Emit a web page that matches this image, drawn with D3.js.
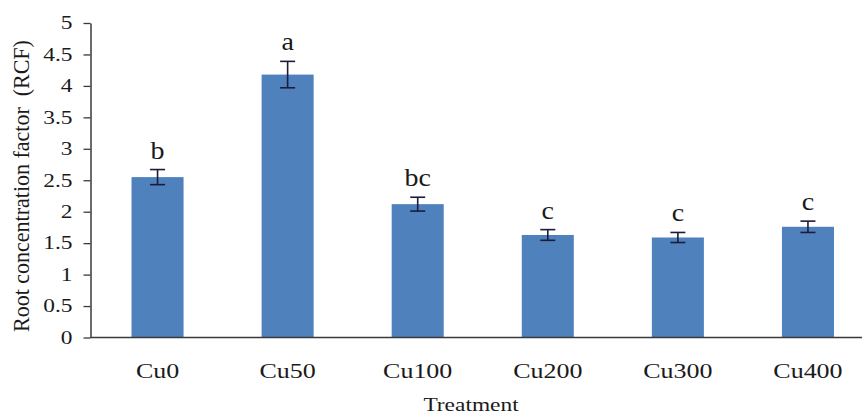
<!DOCTYPE html>
<html>
<head>
<meta charset="utf-8">
<script src="https://cdn.jsdelivr.net/npm/d3@7"></script>
<style>
  html, body { margin: 0; padding: 0; background: #ffffff; }
  svg { display: block; }
  text { font-family: "Liberation Serif", "Times New Roman", serif; fill: #1a1a1a; }
</style>
</head>
<body>
<svg id="chart" width="862" height="416"></svg>
<script>
// Root concentration factor by copper treatment
const treatments = ["Cu0", "Cu50", "Cu100", "Cu200", "Cu300", "Cu400"];
const rcfMeans   = [2.55, 4.18, 2.12, 1.63, 1.59, 1.76];
const rcfErrors  = [0.12, 0.21, 0.11, 0.085, 0.08, 0.09];
const groupLetters = ["b", "a", "bc", "c", "c", "c"];
const yTicks = [0, 0.5, 1, 1.5, 2, 2.5, 3, 3.5, 4, 4.5, 5];

const svg = d3.select("#chart");
const W = 862, H = 416;
const plotLeft = 90.5, plotTop = 23, plotBottom = 337.5;

// glyphs in this figure are drawn slightly wide
const stretch = 1.3;

const x = d3.scaleBand().domain(treatments).range([92.5, 873]).paddingInner(0.6).paddingOuter(0.3);
const y = d3.scaleLinear().domain([0, 5]).range([plotBottom, plotTop]);

// bars
svg.append("g").selectAll("rect")
  .data(treatments)
  .join("rect")
  .attr("x", d => x(d))
  .attr("width", x.bandwidth())
  .attr("y", (d, i) => y(rcfMeans[i]))
  .attr("height", (d, i) => y(0) - y(rcfMeans[i]))
  .attr("fill", "#4f81bd");

// error bars
const eb = svg.append("g").attr("stroke", "#1c1c3a").attr("stroke-width", 1.6);
treatments.forEach((t, i) => {
  const cx = x(t) + x.bandwidth() / 2;
  const y1 = y(rcfMeans[i] + rcfErrors[i]);
  const y2 = y(rcfMeans[i] - rcfErrors[i]);
  eb.append("line").attr("x1", cx).attr("x2", cx).attr("y1", y1).attr("y2", y2);
  eb.append("line").attr("x1", cx - 7.5).attr("x2", cx + 7.5).attr("y1", y1).attr("y2", y1);
  eb.append("line").attr("x1", cx - 7.5).attr("x2", cx + 7.5).attr("y1", y2).attr("y2", y2);
});

// significance letters
svg.append("g").selectAll("text")
  .data(treatments)
  .join("text")
  .attr("transform", (d, i) => `translate(${x(d) + x.bandwidth() / 2},${y(rcfMeans[i] + rcfErrors[i]) - 11}) scale(1.12,1)`)
  .attr("text-anchor", "middle")
  .attr("font-size", 25)
  .text((d, i) => groupLetters[i]);

// y axis
const yAxis = svg.append("g")
  .attr("transform", `translate(${plotLeft},0)`)
  .call(d3.axisLeft(y).tickValues(yTicks).tickFormat(d3.format("")).tickSize(7).tickSizeOuter(0));
yAxis.select(".domain").attr("stroke", "#3a3a3a").attr("stroke-width", 1.5);
yAxis.selectAll(".tick line").attr("stroke", "#3a3a3a").attr("stroke-width", 1.3);
yAxis.selectAll(".tick text")
  .attr("font-family", "Liberation Serif, serif")
  .attr("font-size", 18)
  .attr("fill", "#1a1a1a")
  .attr("x", -18 / stretch)
  .attr("transform", `scale(${stretch},1)`);

// x axis
const xAxis = svg.append("g")
  .attr("transform", `translate(0,${plotBottom})`)
  .call(d3.axisBottom(x).tickSize(0).tickSizeOuter(0));
xAxis.select(".domain").attr("stroke", "#3a3a3a").attr("stroke-width", 1.5)
  .attr("d", `M${plotLeft},0H${W}`);
xAxis.selectAll(".tick text")
  .attr("font-family", "Liberation Serif, serif")
  .attr("font-size", 20)
  .attr("fill", "#1a1a1a")
  .attr("y", 0)
  .attr("dy", 0)
  .attr("transform", `translate(0,40) scale(${stretch},1)`);

// axis titles
svg.append("text")
  .attr("transform", `translate(471,411) scale(${stretch},1)`)
  .attr("text-anchor", "middle")
  .attr("font-size", 18)
  .text("Treatment");

svg.append("text")
  .attr("transform", `translate(29,186) rotate(-90) scale(1,1.08)`)
  .attr("text-anchor", "middle")
  .attr("font-size", 22)
  .attr("xml:space", "preserve")
  .style("white-space", "pre")
  .text("Root concentration factor  (RCF)");
</script>
</body>
</html>
